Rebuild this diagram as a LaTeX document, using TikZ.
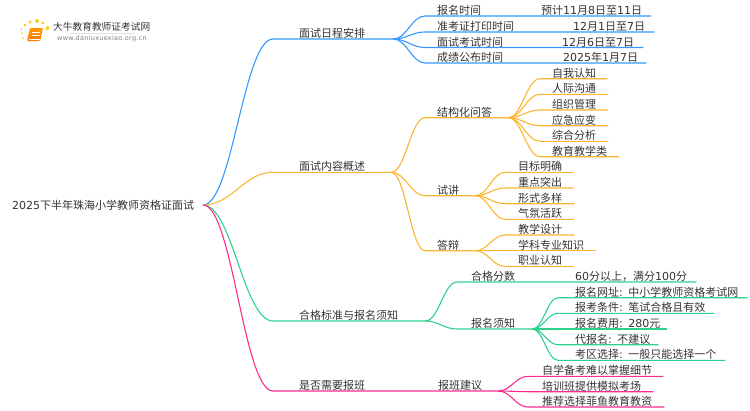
\documentclass[tikz,border=0pt]{standalone}
\usepackage{fontspec}
\setmainfont{Noto Sans CJK SC}
\newfontfamily\digfont{DejaVu Sans}
\newfontfamily\urlfont[LetterSpace=4.3]{DejaVu Sans}
\newcommand{\digs}[1]{{\digfont #1}}
\newcommand{\lbl}[2]{\hspace*{#1pt}\rlap{#2}}
\usetikzlibrary{positioning,calc}
\definecolor{txtgray}{HTML}{333333}
\definecolor{mapblue}{HTML}{3399FF}
\definecolor{maporange}{HTML}{FDB531}
\definecolor{mapgreen}{HTML}{2CD18E}
\definecolor{mappink}{HTML}{FF2A8D}
\tikzstyle{bar} = [anchor=south west,inner xsep=0pt,inner ysep=0pt,text width=#1,align=left,
    text height=9.5pt,text depth=1.2pt,font=\fontsize{11}{13}\selectfont,text=txtgray]
\tikzstyle{branch} = [line width=1.1pt,to path={let \p1=(\tikztostart),\p2=(\tikztotarget),
    \n1={0.42*(\x2-\x1)} in .. controls (\x1+\n1,\y1) and (\x2-\n1,\y2) .. (\tikztotarget)}]
\begin{document}
\begin{tikzpicture}[x=1pt,y=-1pt]
    \useasboundingbox (0,0) rectangle (750,410);

    % logo
    \foreach \px/\py/\pr in {22/33/1, 23/38/1, 21.5/29/1, 25/25/1.5, 30/22/1.7, 37/21/2, 43/23/1.7, 47.5/28/2}
        \fill[maporange!70!yellow] (\px,\py) circle (\pr);
    \shade[top color=orange!80!yellow,bottom color=orange!95!red,rounded corners=1pt]
        (30,28) -- (43,28) -- (40,41) -- (27,41) -- cycle;
    \draw[white,line width=.6pt] (32,32) -- (40,32) (31.5,35) -- (39.5,35);
    \draw[white,line width=.5pt] (28.5,39) -- (40,39);
    \draw[black!12,line width=.5pt] (70,33.5) -- (135,33.5);
    \node[anchor=west,inner sep=0pt,font=\fontsize{9.7}{12}\selectfont,text=txtgray] (logotxt) at (53,27) {大牛教育教师证考试网};
    \node[anchor=west,inner sep=0pt,font=\fontsize{6.5}{8}\selectfont\urlfont,text=gray] (logourl) at (57,39) {www.daniuxuexiao.org.cn};

    % root
    \node[anchor=west,inner sep=0pt,font=\fontsize{11}{13}\selectfont,text=txtgray] (root) at (12,205) {\digs{2025}下半年珠海小学教师资格证面试};
    \coordinate (fork) at (203,205);

    % level one
    \node[bar=120pt] (sched) at (273,39) {\lbl{26}{面试日程安排}};
    \node[bar=118pt] (cont) at (273,172.3) {\lbl{26}{面试内容概述}};
    \node[bar=152pt] (pass) at (273,321) {\lbl{26}{合格标准与报名须知}};
    \node[bar=225pt] (cls) at (273,391) {\lbl{26}{是否需要报班}\hspace*{139pt}\rlap{报班建议}};

    % schedule
    \node[bar=226pt] (s1) at (425,16) {\lbl{12}{报名时间}\hspace*{104pt}\rlap{预计\digs{11}月\digs{8}日至\digs{11}日}};
    \node[bar=229pt] (s2) at (425,32) {\lbl{12}{准考证打印时间}\hspace*{136pt}\rlap{\digs{12}月\digs{1}日至\digs{7}日}};
    \node[bar=218pt] (s3) at (425,47.5) {\lbl{12}{面试考试时间}\hspace*{125pt}\rlap{\digs{12}月\digs{6}日至\digs{7}日}};
    \node[bar=221pt] (s4) at (425,63) {\lbl{12}{成绩公布时间}\hspace*{126pt}\rlap{\digs{2025}年\digs{1}月\digs{7}日}};

    % content
    \node[bar=83pt] (c1) at (425,117.7) {\lbl{12}{结构化问答}};
    \node[bar=50pt] (c2) at (425,195.7) {\lbl{12}{试讲}};
    \node[bar=50pt] (c3) at (425,250.7) {\lbl{12}{答辩}};

    \node[bar=67pt] (q1) at (540,78.7) {\lbl{12}{自我认知}};
    \node[bar=68pt] (q2) at (540,94.3) {\lbl{12}{人际沟通}};
    \node[bar=67.5pt] (q3) at (540,110) {\lbl{12}{组织管理}};
    \node[bar=68pt] (q4) at (540,125.7) {\lbl{12}{应急应变}};
    \node[bar=68pt] (q5) at (540,141.3) {\lbl{12}{综合分析}};
    \node[bar=79pt] (q6) at (540,156.7) {\lbl{12}{教育教学类}};

    \node[bar=68pt] (t1) at (505,172.3) {\lbl{13}{目标明确}};
    \node[bar=68pt] (t2) at (505,188) {\lbl{13}{重点突出}};
    \node[bar=69pt] (t3) at (505,203.7) {\lbl{13}{形式多样}};
    \node[bar=69pt] (t4) at (505,219.3) {\lbl{13}{气氛活跃}};

    \node[bar=69pt] (d1) at (505,235) {\lbl{13}{教学设计}};
    \node[bar=91pt] (d2) at (505,250.7) {\lbl{13}{学科专业知识}};
    \node[bar=68pt] (d3) at (505,266.3) {\lbl{13}{职业认知}};

    % pass line
    \node[bar=239pt] (p1) at (457,282) {\lbl{14}{合格分数}\hspace*{104pt}\rlap{\digs{60}分以上，满分\digs{100}分}};
    \node[bar=75pt] (p2) at (457,329) {\lbl{14}{报名须知}};

    \node[bar=189pt] (n1) at (558,297.7) {\lbl{17}{报名网址\digs{: }中小学教师资格考试网}};
    \node[bar=156pt] (n2) at (558,313.3) {\lbl{17}{报考条件\digs{: }笔试合格且有效}};
    \node[bar=109pt] (n3) at (558,329) {\lbl{17}{报名费用\digs{: 280}元}};
    \node[bar=100pt] (n4) at (558,344.7) {\lbl{17}{代报名\digs{: }不建议}};
    \node[bar=167pt] (n5) at (558,360.3) {\lbl{17}{考区选择\digs{: }一般只能选择一个}};

    % class
    \node[bar=135pt] (k1) at (528,376.3) {\lbl{14}{自学备考难以掌握细节}};
    \node[bar=125pt] (k2) at (528,391.7) {\lbl{14}{培训班提供模拟考场}};
    \node[bar=136pt] (k3) at (528,407) {\lbl{14}{推荐选择菲鱼教育教资}};

    % connectors
    \draw[branch,mapblue] (fork) to (sched.south west) -- (sched.south east);
    \draw[branch,maporange] (fork) to (cont.south west) -- (cont.south east);
    \draw[branch,mapgreen] (fork) to (pass.south west) -- (pass.south east);
    \draw[branch,mappink] (fork) to (cls.south west) -- (cls.south east);

    \draw[branch,mapblue] (sched.south east) to (s1.south west) -- (s1.south east);
    \draw[branch,mapblue] (sched.south east) to (s2.south west) -- (s2.south east);
    \draw[branch,mapblue] (sched.south east) to (s3.south west) -- (s3.south east);
    \draw[branch,mapblue] (sched.south east) to (s4.south west) -- (s4.south east);

    \draw[branch,maporange] (cont.south east) to (c1.south west) -- (c1.south east);
    \draw[branch,maporange] (cont.south east) to (c2.south west) -- (c2.south east);
    \draw[branch,maporange] (cont.south east) to (c3.south west) -- (c3.south east);

    \draw[branch,maporange] (c1.south east) to (q1.south west) -- (q1.south east);
    \draw[branch,maporange] (c1.south east) to (q2.south west) -- (q2.south east);
    \draw[branch,maporange] (c1.south east) to (q3.south west) -- (q3.south east);
    \draw[branch,maporange] (c1.south east) to (q4.south west) -- (q4.south east);
    \draw[branch,maporange] (c1.south east) to (q5.south west) -- (q5.south east);
    \draw[branch,maporange] (c1.south east) to (q6.south west) -- (q6.south east);

    \draw[branch,maporange] (c2.south east) to (t1.south west) -- (t1.south east);
    \draw[branch,maporange] (c2.south east) to (t2.south west) -- (t2.south east);
    \draw[branch,maporange] (c2.south east) to (t3.south west) -- (t3.south east);
    \draw[branch,maporange] (c2.south east) to (t4.south west) -- (t4.south east);

    \draw[branch,maporange] (c3.south east) to (d1.south west) -- (d1.south east);
    \draw[branch,maporange] (c3.south east) to (d2.south west) -- (d2.south east);
    \draw[branch,maporange] (c3.south east) to (d3.south west) -- (d3.south east);

    \draw[branch,mapgreen] (pass.south east) to (p1.south west) -- (p1.south east);
    \draw[branch,mapgreen] (pass.south east) to (p2.south west) -- (p2.south east);

    \draw[branch,mapgreen] (p2.south east) to (n1.south west) -- (n1.south east);
    \draw[branch,mapgreen] (p2.south east) to (n2.south west) -- (n2.south east);
    \draw[branch,mapgreen] (p2.south east) to (n3.south west) -- (n3.south east);
    \draw[branch,mapgreen] (p2.south east) to (n4.south west) -- (n4.south east);
    \draw[branch,mapgreen] (p2.south east) to (n5.south west) -- (n5.south east);

    \draw[branch,mappink] (cls.south east) to (k1.south west) -- (k1.south east);
    \draw[branch,mappink] (cls.south east) to (k2.south west) -- (k2.south east);
    \draw[branch,mappink] (cls.south east) to (k3.south west) -- (k3.south east);
\end{tikzpicture}
\end{document}
